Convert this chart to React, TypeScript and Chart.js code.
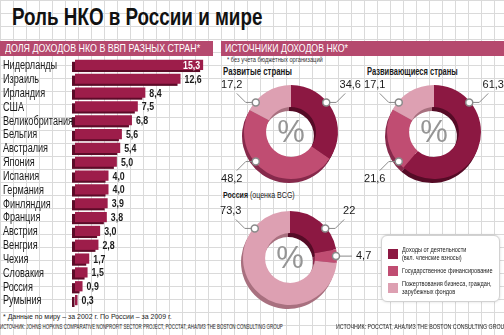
import React, { useEffect, useLayoutEffect, useRef } from 'react';
import { Chart, registerables } from 'chart.js';

Chart.register(...registerables);

// ---------- data ----------
const countries = [
  'Нидерланды', 'Израиль', 'Ирландия', 'США', 'Великобритания', 'Бельгия',
  'Австралия', 'Япония', 'Испания', 'Германия', 'Финляндия', 'Франция',
  'Австрия', 'Венгрия', 'Чехия', 'Словакия', 'Россия', 'Румыния',
];
const shares = [15.3, 12.6, 8.4, 7.5, 6.8, 5.6, 5.4, 5.0, 4.0, 4.0, 3.9, 3.8, 3.0, 2.8, 1.7, 1.5, 0.9, 0.3];

const sourceNames = [
  'Доходы от деятельности (вкл. членские взносы)',
  'Государственное финансирование',
  'Пожертвования бизнеса, граждан, зарубежных фондов',
];
const developedValues = [34.6, 48.2, 17.2];
const developingValues = [61.3, 21.6, 17.1];
const russiaValues = [22, 4.7, 73.3];

// ---------- styles ----------
const DARK = '#8c1842';
const MID = '#c04d72';
const LIGHT = '#dda0b2';
const sourceColors = [DARK, MID, LIGHT];
const sourceShadows = ['#550b26', '#86294b', '#a8707f'];
const HEADER = '#b5496e';
const BAR = '#9d1d4a';
const BAR_SHADOW = '#5c0b28';

const SANS = '"Liberation Sans", Arial, sans-serif';

const fmt1 = (v: number) => v.toFixed(1).replace('.', ',');
const fmt = (v: number) => String(v).replace('.', ',');

// ---------- bar chart ----------
const barDecor = {
  id: 'barDecor',
  beforeDatasetsDraw(chart: any) {
    const ctx = chart.ctx;
    ctx.save();
    ctx.fillStyle = BAR_SHADOW;
    chart.getDatasetMeta(0).data.forEach((el: any) => {
      const { x, y, base, height } = el.getProps(['x', 'y', 'base', 'height'], true);
      ctx.fillRect(base - 3, y - height / 2 + 2, x - base, height);
    });
    ctx.restore();
  },
  afterDatasetsDraw(chart: any) {
    const ctx = chart.ctx;
    const yScale = chart.scales.y;
    // category labels (condensed)
    const labels = yScale.getLabels();
    ctx.save();
    ctx.font = `12px ${SANS}`;
    ctx.fillStyle = '#1a1a1a';
    ctx.textAlign = 'left';
    ctx.textBaseline = 'middle';
    labels.forEach((lab: string, i: number) => {
      const py = yScale.getPixelForTick(i);
      ctx.save();
      ctx.translate(3, py + 1);
      ctx.scale(0.76, 1);
      ctx.fillText(lab, 0, 0);
      ctx.restore();
    });
    ctx.restore();

    // value labels
    ctx.save();
    ctx.font = `bold 11px ${SANS}`;
    ctx.textBaseline = 'middle';
    chart.getDatasetMeta(0).data.forEach((el: any, i: number) => {
      const { x, y } = el.getProps(['x', 'y'], true);
      const text = fmt1(shares[i]);
      const w = ctx.measureText(text).width * 0.8;
      ctx.save();
      if (x + 4 + w > chart.width) {
        ctx.fillStyle = '#ffffff';
        ctx.textAlign = 'right';
        ctx.translate(x - 3, y + 1);
      } else {
        ctx.fillStyle = '#1a1a1a';
        ctx.textAlign = 'left';
        ctx.translate(x + 4, y + 1);
      }
      ctx.scale(0.8, 1);
      ctx.fillText(text, 0, 0);
      ctx.restore();
    });
    ctx.restore();
  },
};

function BarChart() {
  const ref = useRef<HTMLCanvasElement>(null);
  useEffect(() => {
    const chart = new Chart(ref.current as HTMLCanvasElement, {
      type: 'bar',
      data: {
        labels: countries,
        datasets: [{
          data: shares,
          backgroundColor: BAR,
          borderWidth: 0,
          barPercentage: 0.74,
          categoryPercentage: 1,
        }],
      },
      options: {
        indexAxis: 'y',
        responsive: false,
        animation: false,
        events: [],
        layout: { padding: { left: 3, right: 6, top: 0, bottom: 0 } },
        plugins: { legend: { display: false }, tooltip: { enabled: false } },
        scales: {
          x: { display: false, min: 0, max: 16 },
          y: {
            grid: { display: false },
            border: { display: false },
            afterFit: (s: any) => { s.width = 72; },
            ticks: { display: false, autoSkip: false },
          },
        },
      } as any,
      plugins: [barDecor],
    });
    return () => chart.destroy();
  }, []);
  return (
    <canvas ref={ref} width={215} height={249}
      style={{ position: 'absolute', left: 0, top: 58 }} />
  );
}

// ---------- doughnuts ----------
const PREFERRED = [50, 310, 230, 130];
const toDeg = (a: number) => ((a + Math.PI / 2) * 180) / Math.PI;

function makeDonutDecor(values: number[]) {
  return {
    id: 'donutDecor',
    beforeDatasetsDraw(chart: any) {
      const ctx = chart.ctx;
      ctx.save();
      chart.getDatasetMeta(0).data.forEach((a: any, i: number) => {
        const { x, y, startAngle, endAngle, innerRadius, outerRadius } =
          a.getProps(['x', 'y', 'startAngle', 'endAngle', 'innerRadius', 'outerRadius'], true);
        ctx.beginPath();
        ctx.arc(x - 2, y + 4, outerRadius, startAngle, endAngle);
        ctx.arc(x - 2, y + 4, innerRadius, endAngle, startAngle, true);
        ctx.closePath();
        ctx.fillStyle = sourceShadows[i];
        ctx.fill();
      });
      ctx.restore();
    },
    afterDatasetsDraw(chart: any) {
      const ctx = chart.ctx;
      const arcs = chart.getDatasetMeta(0).data;
      ctx.save();
      const c = arcs[0].getProps(['x', 'y'], true);
      ctx.font = `31px ${SANS}`;
      ctx.fillStyle = '#959595';
      ctx.textAlign = 'center';
      ctx.textBaseline = 'middle';
      ctx.fillText('%', c.x, c.y + 1);

      arcs.forEach((a: any, i: number) => {
        const { x, y, startAngle, endAngle, outerRadius } =
          a.getProps(['x', 'y', 'startAngle', 'endAngle', 'outerRadius'], true);
        const s = toDeg(startAngle);
        const e = toDeg(endAngle);
        let th = PREFERRED.find((p) => p > s + 3 && p < e - 3);
        const onDiag = th !== undefined;
        if (th === undefined) th = (s + e) / 2;
        const rad = (th * Math.PI) / 180;
        const ang = rad - Math.PI / 2;
        const r = outerRadius - 1;
        const mx = x + r * Math.cos(ang);
        const my = y + r * Math.sin(ang);
        const sx = Math.sin(rad) >= 0 ? 1 : -1;
        const sy = -Math.cos(rad) >= 0 ? 1 : -1;

        ctx.strokeStyle = '#8a8a8a';
        ctx.lineWidth = 1;
        ctx.beginPath();
        ctx.moveTo(mx, my);
        let lx: number, ly: number, align: CanvasTextAlign;
        if (onDiag) {
          const p1x = mx + sx * 10;
          const p2x = p1x + sx * 9;
          const p2y = my + sy * 9;
          ctx.lineTo(p1x, my);
          ctx.lineTo(p2x, p2y);
          lx = p2x + sx * 5;
          ly = p2y + sy * 8;
          align = 'center';
        } else {
          const p1x = mx + sx * 16;
          ctx.lineTo(p1x, my);
          lx = p1x + sx * 4;
          ly = my;
          align = sx > 0 ? 'left' : 'right';
        }
        ctx.stroke();

        ctx.beginPath();
        ctx.arc(mx, my, 3.5, 0, Math.PI * 2);
        ctx.fillStyle = '#ffffff';
        ctx.fill();
        ctx.lineWidth = 1.5;
        ctx.stroke();

        ctx.font = `11px ${SANS}`;
        ctx.fillStyle = '#1a1a1a';
        ctx.textAlign = align;
        ctx.textBaseline = 'middle';
        ctx.fillText(fmt(values[i]), lx, ly);
      });
      ctx.restore();
    },
  };
}

function Donut({ values, cx, cy }: { values: number[]; cx: number; cy: number }) {
  const ref = useRef<HTMLCanvasElement>(null);
  const W = 180;
  const H = 124;
  const R = 47;
  useEffect(() => {
    const chart = new Chart(ref.current as HTMLCanvasElement, {
      type: 'doughnut',
      data: {
        labels: sourceNames,
        datasets: [{
          data: values,
          backgroundColor: sourceColors,
          borderWidth: 0,
          hoverOffset: 0,
          offset: 0,
        }],
      },
      options: {
        responsive: false,
        animation: false,
        events: [],
        cutout: '53%',
        layout: { padding: { left: W / 2 - R, right: W / 2 - R, top: H / 2 - R, bottom: H / 2 - R } },
        plugins: { legend: { display: false }, tooltip: { enabled: false } },
      } as any,
      plugins: [makeDonutDecor(values)],
    });
    return () => chart.destroy();
  }, []);
  return (
    <canvas ref={ref} width={W} height={H}
      style={{ position: 'absolute', left: cx - W / 2, top: cy - H / 2 }} />
  );
}

// ---------- text helper: condensed text fitted to a width ----------
function Fit({ w, style, children }: { w: number; style: React.CSSProperties; children: React.ReactNode }) {
  const ref = useRef<HTMLDivElement>(null);
  useLayoutEffect(() => {
    const el = ref.current;
    if (!el) return;
    el.style.transform = 'none';
    const nat = el.offsetWidth;
    if (nat > 0) el.style.transform = `scaleX(${w / nat})`;
  });
  return (
    <div ref={ref} style={{
      position: 'absolute', whiteSpace: 'nowrap', transformOrigin: 'left center',
      fontFamily: SANS, ...style,
    }}>
      {children}
    </div>
  );
}

export default function App() {
  const grid =
    'linear-gradient(to right, #dadada 1px, transparent 1px), linear-gradient(to bottom, #dadada 1px, transparent 1px)';
  return (
    <div style={{
      position: 'fixed', left: 0, top: 0, width: 504, height: 335, overflow: 'hidden',
      background: '#ffffff', backgroundImage: grid, backgroundSize: '13px 13px',
      fontFamily: SANS, color: '#1a1a1a',
    }}>
      <Fit w={250} style={{ left: 12, top: 4, fontSize: 24, lineHeight: '25px', fontWeight: 700, color: '#111' }}>
        Роль НКО в России и мире
      </Fit>

      <div style={{ position: 'absolute', left: 0, top: 41, width: 213, height: 15, background: HEADER }} />
      <div style={{ position: 'absolute', left: 221, top: 41, width: 283, height: 15, background: HEADER }} />
      <Fit w={195} style={{ left: 5, top: 41, fontSize: 11, lineHeight: '15px', color: '#fff' }}>
        ДОЛЯ ДОХОДОВ НКО В ВВП РАЗНЫХ СТРАН*
      </Fit>
      <Fit w={123} style={{ left: 225, top: 41, fontSize: 11, lineHeight: '15px', color: '#fff' }}>
        ИСТОЧНИКИ ДОХОДОВ НКО*
      </Fit>

      <BarChart />

      <Fit w={96} style={{ left: 227, top: 56, fontSize: 6.5, lineHeight: '7px', color: '#333' }}>
        * без учета бюджетных организаций
      </Fit>
      <Fit w={69} style={{ left: 223, top: 66, fontSize: 10, lineHeight: '11px', fontWeight: 700 }}>
        Развитые страны
      </Fit>
      <Fit w={91} style={{ left: 367, top: 66, fontSize: 10, lineHeight: '11px', fontWeight: 700 }}>
        Развивающиеся страны
      </Fit>
      <Fit w={72} style={{ left: 223, top: 190, fontSize: 9, lineHeight: '10px' }}>
        <b>Россия</b> (оценка BCG)
      </Fit>

      <Donut values={developedValues} cx={291} cy={132} />
      <Donut values={developingValues} cx={434} cy={132} />
      <Donut values={russiaValues} cx={290} cy={258} />

      <div style={{
        position: 'absolute', left: 381, top: 235, width: 119, height: 67, background: '#ffffff',
        border: '1px solid #d2d2d2', borderRadius: 6, boxSizing: 'border-box',
        boxShadow: '0 0 3px rgba(0,0,0,0.15)',
      }}>
        {[
          { top: 9, h: 17, lines: ['Доходы от деятельности', '(вкл. членские взносы)'] },
          { top: 29, h: 11, lines: ['Государственное финансирование'] },
          { top: 43, h: 17, lines: ['Пожертвования бизнеса, граждан,', 'зарубежных фондов'] },
        ].map((it, i) => (
          <div key={i} style={{ position: 'absolute', left: 6, top: it.top, height: it.h, display: 'flex', alignItems: 'center', whiteSpace: 'nowrap' }}>
            <div style={{ width: 10, height: 10, background: sourceColors[i], marginRight: 4, flex: 'none' }} />
            <div style={{ fontSize: 7, lineHeight: '8px', color: '#222', transform: 'scaleX(0.8)', transformOrigin: 'left center' }}>
              {it.lines.map((l, j) => <div key={j}>{l}</div>)}
            </div>
          </div>
        ))}
      </div>

      <Fit w={169} style={{ left: 3, top: 312, fontSize: 8, lineHeight: '9px', color: '#222' }}>
        * Данные по миру – за 2002 г. По России – за 2009 г.
      </Fit>
      <Fit w={283} style={{ left: 0, top: 323, fontSize: 7, lineHeight: '8px', color: '#222' }}>
        ИСТОЧНИК: JOHNS HOPKINS COMPARATIVE NONPROFIT SECTOR PROJECT, РОССТАТ, АНАЛИЗ THE BOSTON CONSULTING GROUP
      </Fit>
      <Fit w={172} style={{ left: 336, top: 323, fontSize: 7, lineHeight: '8px', color: '#222' }}>
        ИСТОЧНИК: РОССТАТ, АНАЛИЗ THE BOSTON CONSULTING GROUP
      </Fit>
    </div>
  );
}
